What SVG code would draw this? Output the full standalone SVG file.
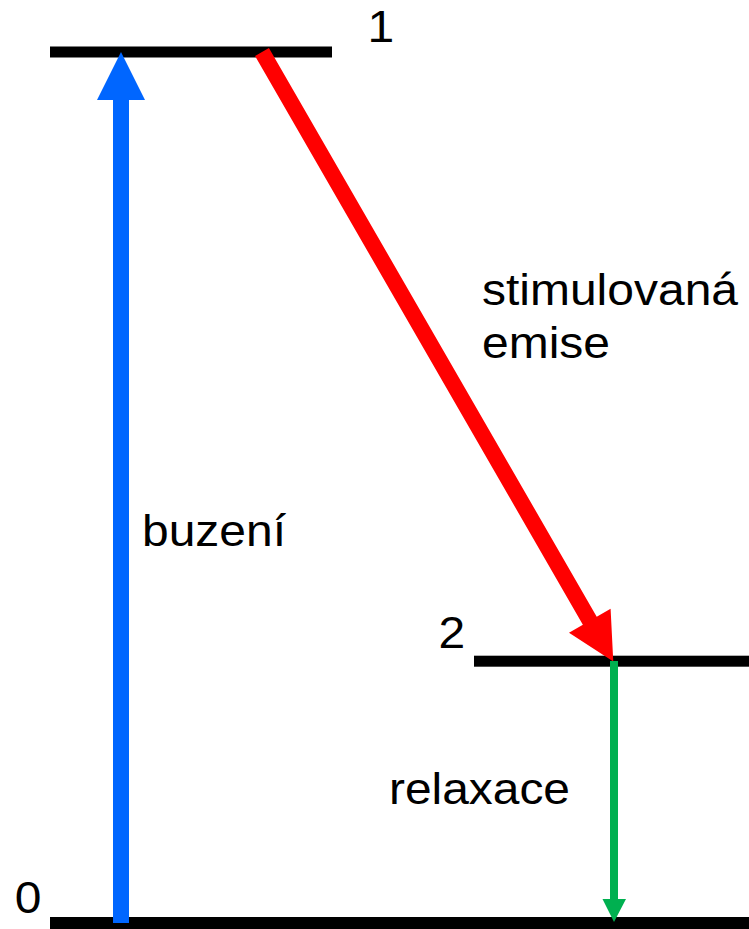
<svg xmlns="http://www.w3.org/2000/svg" width="749" height="929" viewBox="0 0 749 929">
<style>
.lvl{fill:#000}
.lbl{font-family:"Liberation Sans",Arial,sans-serif;font-size:45px;fill:#000}
</style>
<rect width="749" height="929" fill="#fff"/>
<g id="level1"><rect class="lvl" x="50" y="46.5" width="282" height="11"/><text class="lbl" x="367.5" y="42" textLength="26.7" lengthAdjust="spacingAndGlyphs">1</text></g>
<g id="level2"><rect class="lvl" x="474" y="655.7" width="275" height="11"/><text class="lbl" x="438.5" y="648" textLength="26.7" lengthAdjust="spacingAndGlyphs">2</text></g>
<g id="level0"><rect class="lvl" x="50" y="917" width="699" height="12"/><text class="lbl" x="14.7" y="913" textLength="26.7" lengthAdjust="spacingAndGlyphs">0</text></g>
<g id="connectors">
<g id="buzeni">
<polygon fill="#0066FF" points="113,923 113,100 97,100 121,52 145,100 129,100 129,923"/>
<text class="lbl" x="142" y="545.7" textLength="144" lengthAdjust="spacingAndGlyphs">buzení</text>
</g>
<g id="emise">
<polygon fill="#FF0000" transform="translate(262,52) rotate(60.04)" points="0,-8 656.4,-8 656.4,-24 703.4,0 656.4,24 656.4,8 0,8"/>
<text class="lbl" x="482" y="305" textLength="256" lengthAdjust="spacingAndGlyphs">stimulovaná</text>
<text class="lbl" x="482" y="358" textLength="128" lengthAdjust="spacingAndGlyphs">emise</text>
</g>
<g id="relaxace">
<polygon fill="#00B050" points="610,661 618,661 618,899 626,899 614,922 602.5,899 610,899"/>
<text class="lbl" x="389" y="804" textLength="181" lengthAdjust="spacingAndGlyphs">relaxace</text>
</g>
</g>
</svg>
